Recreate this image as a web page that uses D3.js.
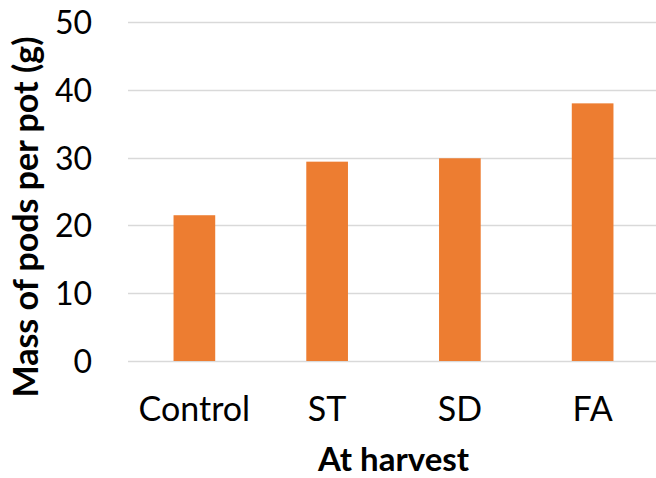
<!DOCTYPE html>
<html>
<head>
<meta charset="utf-8">
<script src="https://cdn.jsdelivr.net/npm/d3@7/dist/d3.min.js"></script>
<style>
  html, body { margin: 0; padding: 0; background: #fff; }
  svg { display: block; }
  text { font-family: Lato, "Open Sans", sans-serif; fill: #000; }
</style>
</head>
<body>
<svg id="chart" width="656" height="478"></svg>
<script>
// Mass of pods per pot at harvest, by treatment
const categories = ["Control", "ST", "SD", "FA"];
const values = [21.5, 29.4, 29.9, 38.0];
const yTicks = [0, 10, 20, 30, 40, 50];
const xTitle = "At harvest";
const yTitle = "Mass of pods per pot (g)";

const svg = d3.select("#chart");
const plotLeft = 128, plotRight = 659, plotTop = 22, plotBottom = 361;

const x = d3.scaleBand()
  .domain(categories)
  .range([plotLeft, plotRight])
  .paddingInner(0.686)
  .paddingOuter(0.343);

const y = d3.scaleLinear()
  .domain([0, 50])
  .range([plotBottom, plotTop]);

// horizontal gridlines
svg.append("g")
  .selectAll("line")
  .data(yTicks)
  .join("line")
  .attr("x1", plotLeft)
  .attr("x2", plotRight)
  .attr("y1", d => Math.round(y(d)) + 0.5)
  .attr("y2", d => Math.round(y(d)) + 0.5)
  .attr("stroke", "#d9d9d9")
  .attr("stroke-width", 1.5);

// bars
svg.append("g")
  .selectAll("rect")
  .data(categories)
  .join("rect")
  .attr("x", d => x(d))
  .attr("width", x.bandwidth())
  .attr("y", (d, i) => y(values[i]))
  .attr("height", (d, i) => y(0) - y(values[i]))
  .attr("fill", "#ed7d31");

// y axis tick labels
const yAxis = d3.axisLeft(y).tickValues(yTicks).tickSize(0).tickPadding(0).tickFormat(d3.format("d"));
const gy = svg.append("g").attr("transform", `translate(92,0)`).call(yAxis);
gy.select(".domain").remove();
gy.selectAll("text")
  .attr("font-size", 32)
  .attr("font-family", "Lato, sans-serif")
  .attr("fill", "#000")
  .attr("dy", "0.36em");

// x axis category labels
const xAxis = d3.axisBottom(x).tickSize(0).tickPadding(0);
const gx = svg.append("g").attr("transform", `translate(0,${plotBottom})`).call(xAxis);
gx.select(".domain").remove();
gx.selectAll("text")
  .attr("font-size", 34)
  .attr("font-family", "Lato, sans-serif")
  .attr("fill", "#000")
  .attr("dy", null)
  .attr("y", 60);

// axis titles
svg.append("text")
  .attr("x", (plotLeft + plotRight) / 2)
  .attr("y", 471)
  .attr("text-anchor", "middle")
  .attr("font-size", 33)
  .attr("font-weight", "bold")
  .text(xTitle);

svg.append("text")
  .attr("transform", `translate(38,217) rotate(-90)`)
  .attr("text-anchor", "middle")
  .attr("font-size", 34)
  .attr("font-weight", "bold")
  .text(yTitle);
</script>
</body>
</html>
